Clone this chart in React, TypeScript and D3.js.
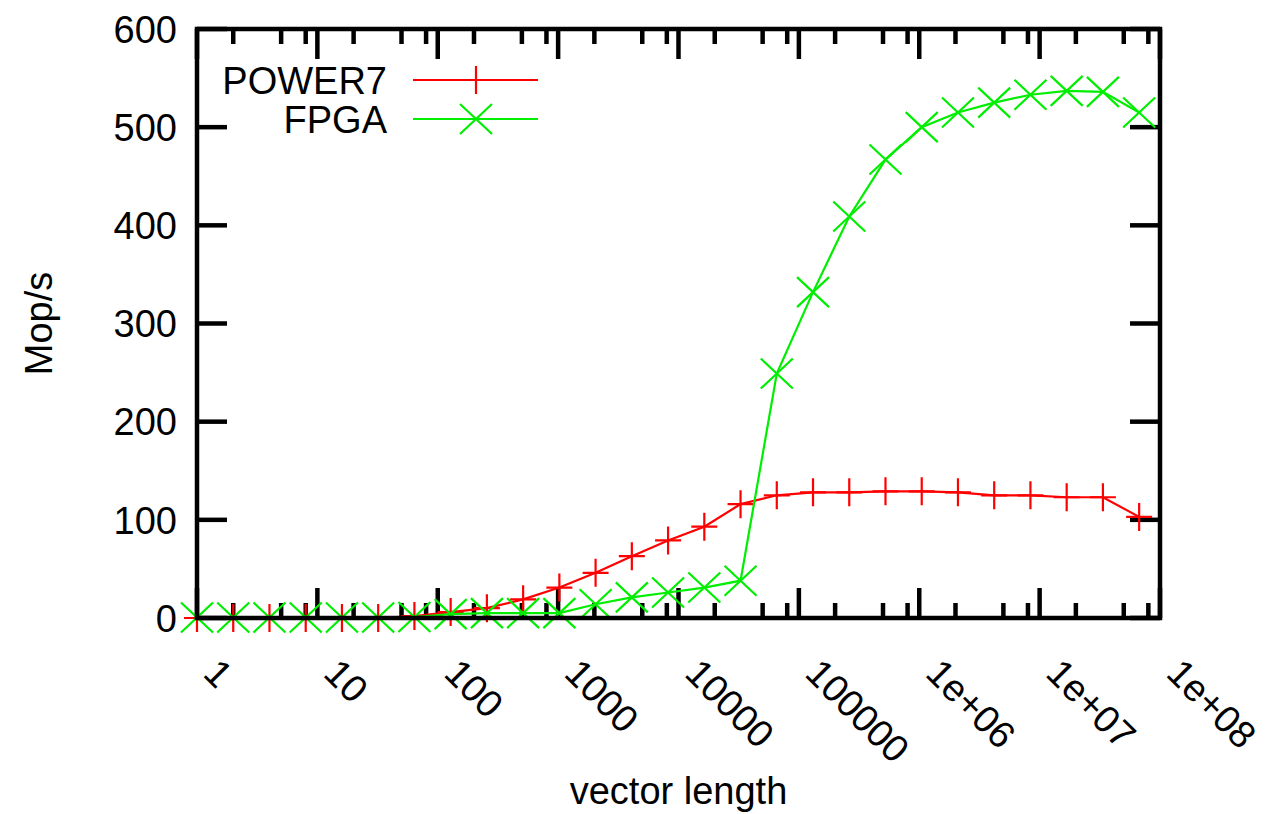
import React from 'react';
import * as d3 from 'd3';

// vector lengths (powers of two) and measured throughput
const vectorLengths = [
  1, 2, 4, 8, 16, 32, 64, 128, 256, 512, 1024, 2048, 4096, 8192, 16384, 32768,
  65536, 131072, 262144, 524288, 1048576, 2097152, 4194304, 8388608, 16777216,
  33554432, 67108864,
];
const power7 = [
  0, 0, 0, 0, 0, 0, 2, 6, 10, 19, 31, 46, 63, 79, 93, 116, 125, 128, 128, 129,
  129, 128, 125, 125, 123, 123, 103,
];
const fpga = [
  0.5, 0.5, 0.5, 0.5, 0.5, 0.5, 1, 4, 5, 5, 5, 14, 21, 26, 31, 38, 249, 332,
  409, 467, 500, 515, 525, 533, 537, 536, 515,
];
const yTicks = [0, 100, 200, 300, 400, 500, 600];
const xTicks = [1, 10, 100, 1000, 10000, 100000, 1e6, 1e7, 1e8];
const xTickLabels = ['1', '10', '100', '1000', '10000', '100000', '1e+06', '1e+07', '1e+08'];
const minorSteps = [2, 5, 8];

const W = 1276;
const H = 814;
const margin = { left: 197, right: 116, top: 29, bottom: 196 };
const FONT = '"Liberation Sans", Arial, Helvetica, sans-serif';
const FS = 38;

export default function App() {
  const x0 = margin.left;
  const x1 = W - margin.right;
  const y0 = margin.top;
  const y1 = H - margin.bottom;

  const x = d3.scaleLog().domain([1, 1e8]).range([x0, x1]);
  const y = d3.scaleLinear().domain([0, 600]).range([y1, y0]);

  const line = d3
    .line<number>()
    .x((_, i) => x(vectorLengths[i]))
    .y((d) => y(d));

  const minorTicks: number[] = [];
  for (let e = 0; e < 8; e++) {
    minorSteps.forEach((m) => minorTicks.push(m * Math.pow(10, e)));
  }

  const plus = (cx: number, cy: number, key: string | number) => (
    <path key={key} d={`M${cx - 13},${cy}H${cx + 13}M${cx},${cy - 14}V${cy + 14}`} />
  );
  const cross = (cx: number, cy: number, key: string | number) => (
    <path
      key={key}
      d={`M${cx - 16},${cy - 15}L${cx + 16},${cy + 15}M${cx - 16},${cy + 15}L${cx + 16},${cy - 15}`}
    />
  );

  return (
    <svg
      width={W}
      height={H}
      style={{ position: 'absolute', left: 0, top: 0, background: '#fff' }}
      fontFamily={FONT}
    >
      {/* ticks, mirrored on all sides */}
      <g stroke="#000" strokeWidth={4.5}>
        {yTicks.map((t) => (
          <g key={t}>
            <line x1={x0} x2={x0 + 30} y1={y(t)} y2={y(t)} />
            <line x1={x1 - 30} x2={x1} y1={y(t)} y2={y(t)} />
          </g>
        ))}
        {xTicks.map((t) => (
          <g key={t}>
            <line x1={x(t)} x2={x(t)} y1={y1} y2={y1 - 30} />
            <line x1={x(t)} x2={x(t)} y1={y0} y2={y0 + 30} />
          </g>
        ))}
        {minorTicks.map((t) => (
          <g key={t}>
            <line x1={x(t)} x2={x(t)} y1={y1} y2={y1 - 15} />
            <line x1={x(t)} x2={x(t)} y1={y0} y2={y0 + 15} />
          </g>
        ))}
      </g>

      {/* y labels */}
      <g fontSize={FS} textAnchor="end">
        {yTicks.map((t) => (
          <text key={t} x={x0 - 20} y={y(t)} dy="0.36em">
            {t}
          </text>
        ))}
      </g>

      {/* x labels, rotated */}
      <g fontSize={FS}>
        {xTicks.map((t, i) => (
          <text
            key={t}
            transform={`translate(${x(t) + 24},${y1 + 38}) rotate(45)`}
            dy="0.72em"
          >
            {xTickLabels[i]}
          </text>
        ))}
      </g>

      <text
        fontSize={FS}
        textAnchor="middle"
        transform={`translate(${52},${(y0 + y1) / 2}) rotate(-90)`}
      >
        Mop/s
      </text>
      <text fontSize={FS} textAnchor="middle" x={(x0 + x1) / 2} y={804}>
        vector length
      </text>

      {/* series */}
      <g fill="none" strokeWidth={2.2}>
        <path d={line(power7) || ''} stroke="#ff0000" />
        <g stroke="#ff0000">{power7.map((v, i) => plus(x(vectorLengths[i]), y(v), i))}</g>
        <path d={line(fpga) || ''} stroke="#00ee00" />
        <g stroke="#00ee00">{fpga.map((v, i) => cross(x(vectorLengths[i]), y(v), i))}</g>
      </g>

      {/* legend */}
      <g fontSize={FS} textAnchor="end">
        <text x={387} y={80} dy="0.36em">POWER7</text>
        <text x={387} y={119} dy="0.36em">FPGA</text>
      </g>
      <g fill="none" strokeWidth={2.2}>
        <g stroke="#ff0000">
          <line x1={413} x2={538} y1={80} y2={80} />
          {plus(476, 80, 'lp')}
        </g>
        <g stroke="#00ee00">
          <line x1={413} x2={538} y1={119} y2={119} />
          {cross(476, 119, 'lf')}
        </g>
      </g>

      {/* border */}
      <rect
        x={x0}
        y={y0}
        width={x1 - x0}
        height={y1 - y0}
        fill="none"
        stroke="#000"
        strokeWidth={4.5}
      />
    </svg>
  );
}
